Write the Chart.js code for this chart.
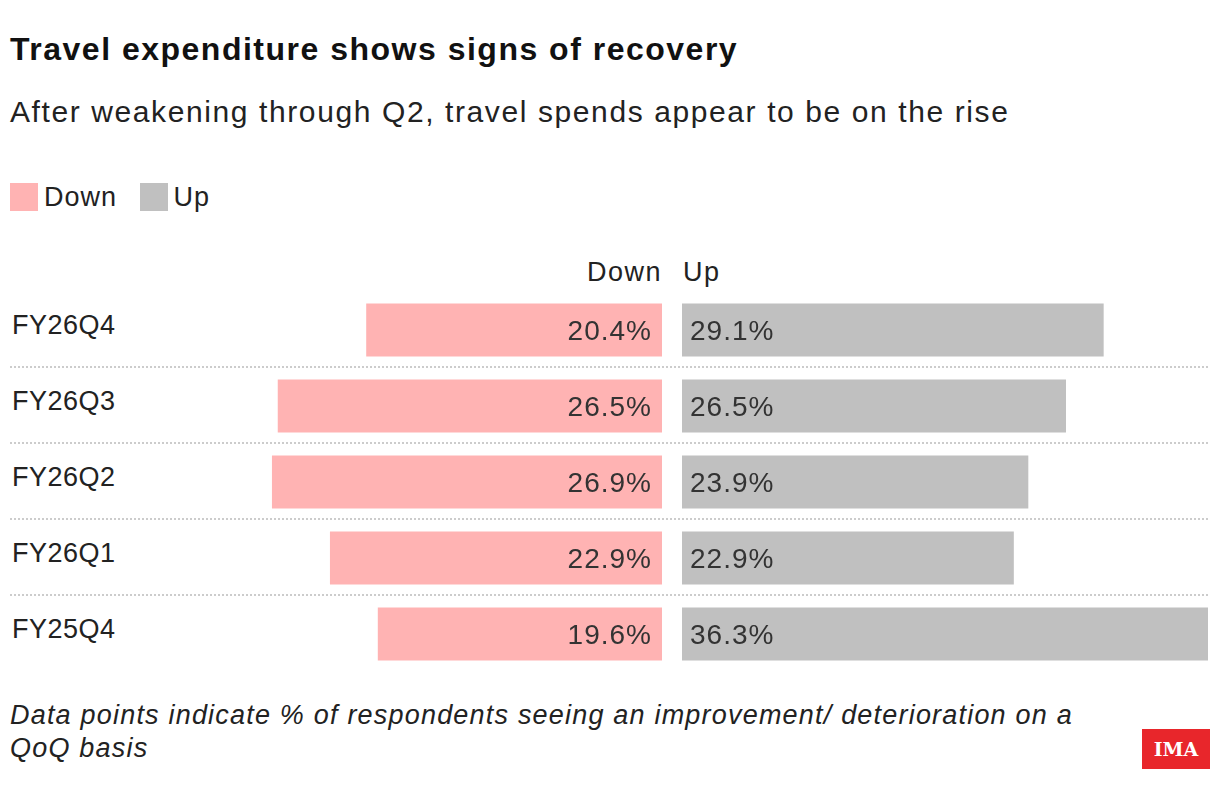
<!DOCTYPE html>
<html><head><meta charset="utf-8">
<script src="https://cdn.jsdelivr.net/npm/chart.js@4"></script>
<style>
body{margin:0;width:1220px;height:804px;background:#fff;font-family:"Liberation Sans",Arial,sans-serif;color:#111;position:relative;overflow:hidden}
.abs{position:absolute}
#title{left:10px;top:31px;font-size:32px;font-weight:bold;letter-spacing:1.5px}
#sub{left:10px;top:95px;font-size:30px;color:#222;letter-spacing:1.6px}
.sw{display:inline-block;width:28px;height:28px;vertical-align:-5px;margin-right:6px}
#legend{left:10px;top:182px;font-size:27px;color:#222;letter-spacing:1px}
.hdr{top:257px;font-size:27px;color:#222;letter-spacing:1.5px}
.rowlab{left:12px;font-size:27px;color:#222;letter-spacing:0.5px}
.sep{left:10px;width:1198px;border-top:2px dotted #ccc;height:0}
#foot{left:10px;top:699px;font-size:27px;font-style:italic;color:#222;line-height:33px;letter-spacing:1.2px}
#logo{left:1142px;top:729px;width:68px;height:40px;background:#e8262b;color:#fff;font-family:"DejaVu Serif",serif;font-weight:bold;font-size:19px;text-align:center;line-height:40px}
</style></head><body>
<div id="title" class="abs">Travel expenditure shows signs of recovery</div>
<div id="sub" class="abs">After weakening through Q2, travel spends appear to be on the rise</div>
<div id="legend" class="abs"><span class="sw" style="background:#ffb3b3"></span>Down <span style="display:inline-block;width:14px"></span><span class="sw" style="background:#c0c0c0"></span>Up</div>
<div class="abs hdr" style="right:558px">Down</div>
<div class="abs hdr" style="left:683px">Up</div>
<div id="rows"></div>
<div class="abs" style="left:256px;top:292px;width:406px;height:380px"><canvas id="cDown"></canvas></div>
<div class="abs" style="left:682px;top:292px;width:526px;height:380px"><canvas id="cUp"></canvas></div>
<div id="foot" class="abs">Data points indicate % of respondents seeing an improvement/ deterioration on a<br>QoQ basis</div>
<div id="logo" class="abs">IMA</div>
<script>
const categories = ['FY26Q4', 'FY26Q3', 'FY26Q2', 'FY26Q1', 'FY25Q4'];
const downValues = [20.4, 26.5, 26.9, 22.9, 19.6];
const upValues = [29.1, 26.5, 23.9, 22.9, 36.3];

const rows = document.getElementById('rows');
categories.forEach((c, i) => {
    const l = document.createElement('div');
    l.className = 'abs rowlab';
    l.style.top = (310 + i * 76) + 'px';
    l.textContent = c;
    rows.appendChild(l);
    if (i > 0) {
        const s = document.createElement('div');
        s.className = 'abs sep';
        s.style.top = (292 + i * 76 - 2) + 'px';
        rows.appendChild(s);
    }
});

const valueLabels = {
    id: 'valueLabels',
    afterDatasetsDraw(chart, args, opts) {
        const ctx = chart.ctx;
        ctx.save();
        ctx.font = '28px "Liberation Sans", Arial, sans-serif';
        ctx.letterSpacing = '1px';
        ctx.fillStyle = '#333';
        ctx.textBaseline = 'middle';
        chart.getDatasetMeta(0).data.forEach((bar, i) => {
            const v = chart.data.datasets[0].data[i].toFixed(1) + '%';
            if (opts.side === 'down') {
                ctx.textAlign = 'right';
                ctx.fillText(v, bar.base - 10, bar.y + 2);
            } else {
                ctx.textAlign = 'left';
                ctx.fillText(v, bar.base + 8, bar.y + 2);
            }
        });
        ctx.restore();
    }
};

function makeChart(id, values, color, max, reverse, side) {
    new Chart(document.getElementById(id), {
        type: 'bar',
        data: {
            labels: categories,
            datasets: [{ data: values, backgroundColor: color, barPercentage: 0.7, categoryPercentage: 1 }]
        },
        options: {
            indexAxis: 'y',
            responsive: true,
            maintainAspectRatio: false,
            animation: false,
            layout: { padding: 0 },
            plugins: { legend: { display: false }, tooltip: { enabled: false }, valueLabels: { side: side } },
            scales: {
                x: { min: 0, max: max, reverse: reverse, display: false },
                y: { display: false }
            }
        },
        plugins: [valueLabels]
    });
}
makeChart('cDown', downValues, '#ffb3b3', 28, true, 'down');
makeChart('cUp', upValues, '#c0c0c0', 36.3, false, 'up');
</script>
</body></html>
